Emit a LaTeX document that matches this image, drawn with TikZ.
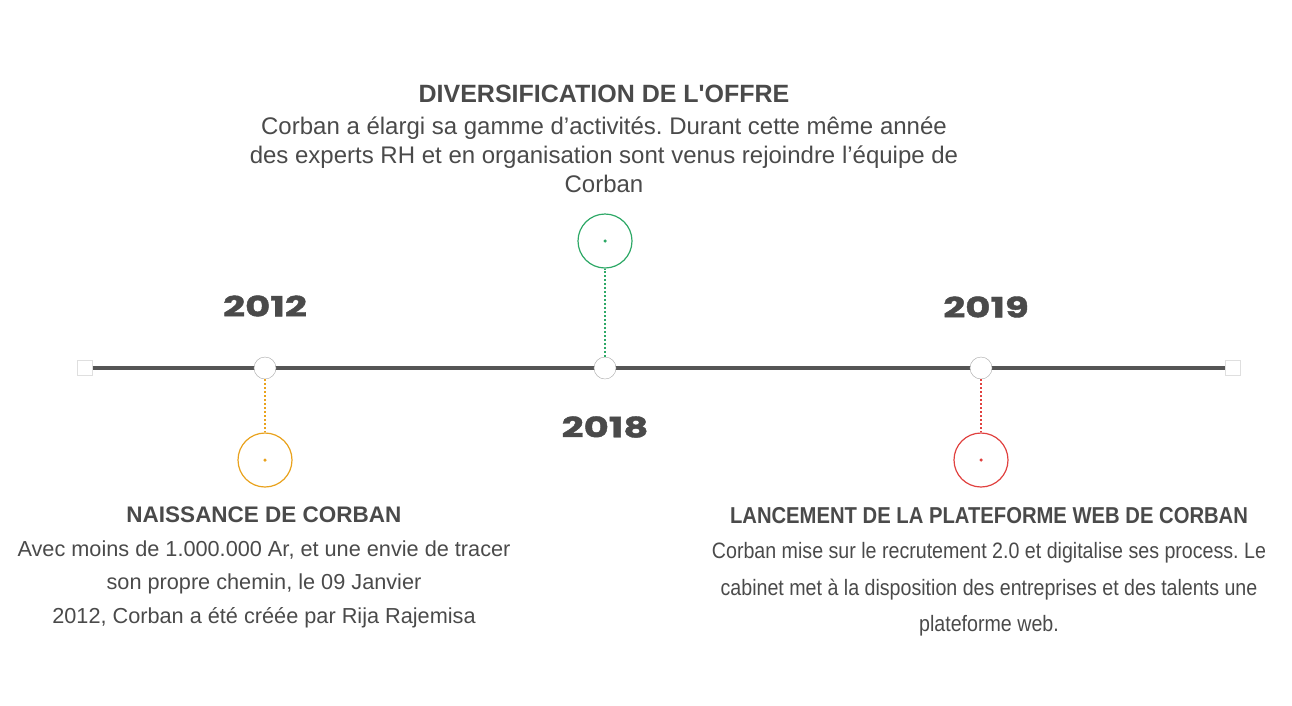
\documentclass[tikz,border=0pt]{standalone}
\usepackage{fontspec}
\setmainfont{Liberation Sans}
\newfontfamily\yearfont{Poppins}[FakeStretch=1.38, FakeBold=1.5]
\newfontfamily\narrowfont{Liberation Sans}[FakeStretch=0.88]
\usetikzlibrary{positioning}
\frenchspacing

\definecolor{inkgray}{HTML}{4A4A4A}
\definecolor{linegray}{HTML}{555555}
\definecolor{ringorange}{HTML}{E9A21D}
\definecolor{ringgreen}{HTML}{2DA866}
\definecolor{ringred}{HTML}{E0413F}

\begin{document}
\begin{tikzpicture}[x=1pt, y=-1pt,
    year/.style=
    {font=\yearfont\bfseries\fontsize{28}{28}\selectfont, text=inkgray},
    headline/.style=
    {font=\bfseries\fontsize{#1}{#1}\selectfont, text=inkgray, inner sep=0pt},
    story/.style 2 args=
    {font=\fontsize{#1}{#2}\selectfont, text=inkgray, align=center, inner sep=0pt},
    narrowheadline/.style=
    {font=\narrowfont\bfseries\fontsize{#1}{#1}\selectfont, text=inkgray, inner sep=0pt},
    narrowstory/.style 2 args=
    {font=\narrowfont\fontsize{#1}{#2}\selectfont, text=inkgray, align=center, inner sep=0pt},
    milestone/.style=
    {circle, draw=gray!70, fill=white, thin, minimum size=22pt, inner sep=0pt},
    endcap/.style=
    {rectangle, draw=gray!25, fill=white, minimum size=15pt, inner sep=0pt},
    ring/.style=
    {circle, draw=#1, line width=1.2pt, minimum size=54pt, inner sep=0pt},
    pin/.style=
    {circle, fill=#1, minimum size=3.5pt, inner sep=0pt},
    link/.style=
    {draw=#1, line width=1.5pt, dash pattern=on 2pt off 2pt},
    node distance = 10pt]
    \useasboundingbox (0,0) rectangle (1292,705);
    % axis
    \node (start) [endcap] at (85,368) {};
    \node (end) [endcap] at (1233,368) {};
    \draw[linegray, line width=4pt] (start) -- (end);
    \node (m2012) [milestone] at (265,368) {};
    \node (m2018) [milestone] at (605,368) {};
    \node (m2019) [milestone] at (981,368) {};
    \node (y2012) [year] at (265,306) {2012};
    \node (y2018) [year] at (605,427) {2018};
    \node (y2019) [year] at (986,307) {2019};
    % rings
    \node (r2012) [ring=ringorange] at (265,460) {};
    \node (r2018) [ring=ringgreen] at (605,241) {};
    \node (r2019) [ring=ringred] at (981,460) {};
    \node [pin=ringorange] at (r2012) {};
    \node [pin=ringgreen] at (r2018) {};
    \node [pin=ringred] at (r2019) {};
    \path[link=ringorange] (m2012) -- (r2012);
    \path[link=ringgreen] (m2018) -- (r2018);
    \path[link=ringred] (m2019) -- (r2019);
    % texts
    \node (t2018) [headline=25] at (604,94) {DIVERSIFICATION DE L\textquotesingle OFFRE};
    \node (s2018) [story={24}{29}, below=14pt of t2018]
        {Corban a élargi sa gamme d’activités. Durant cette même année\\
         des experts RH et en organisation sont venus rejoindre l’équipe de\\
         Corban};
    \node (t2012) [headline=22.5] at (264,515) {NAISSANCE DE CORBAN};
    \node (s2012) [story={21.7}{33.5}, below=17pt of t2012]
        {Avec moins de 1.000.000 Ar, et une envie de tracer\\
         son propre chemin, le 09 Janvier\\
         2012, Corban a été créée par Rija Rajemisa};
    \node (t2019) [narrowheadline=23] at (989,516)
        {LANCEMENT DE LA PLATEFORME WEB DE CORBAN};
    \node (s2019) [narrowstory={22.3}{36.5}, below=18pt of t2019]
        {Corban mise sur le recrutement 2.0 et digitalise ses process. Le\\
         cabinet met à la disposition des entreprises et des talents une\\
         plateforme web.};
\end{tikzpicture}
\end{document}
